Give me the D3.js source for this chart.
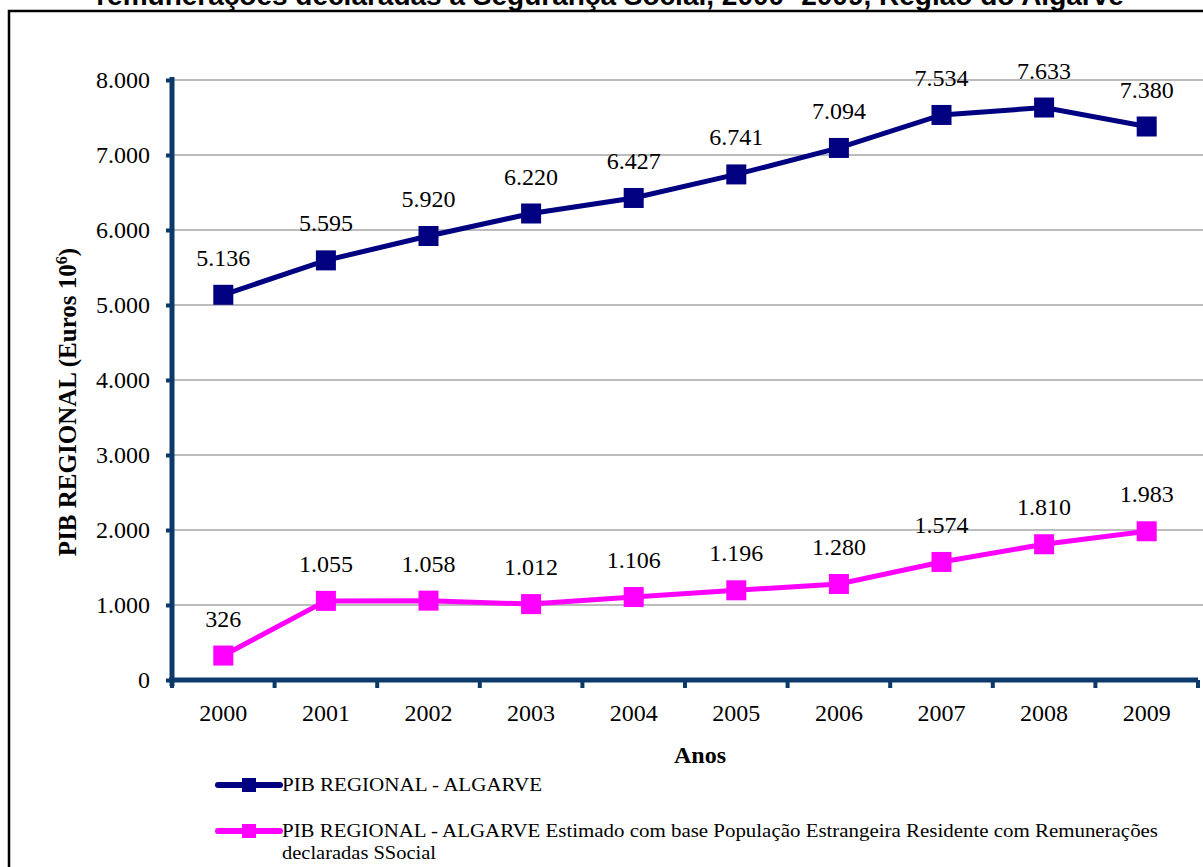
<!DOCTYPE html>
<meta charset="utf-8">
<style>
body { margin: 0; background: #fff; }
svg { display: block; }
.axis .domain { display: none; }
.serif { font-family: "Liberation Serif", "Times New Roman", Times, serif; }
</style>
<svg width="1203" height="867"></svg>
<script src="https://d3js.org/d3.v7.min.js"></script>
<script>

var anos = ["2000", "2001", "2002", "2003", "2004", "2005", "2006", "2007", "2008", "2009"];
var pibAlgarve = [5136, 5595, 5920, 6220, 6427, 6741, 7094, 7534, 7633, 7380];
var pibEstimado = [326, 1055, 1058, 1012, 1106, 1196, 1280, 1574, 1810, 1983];
var yTicks = [0, 1000, 2000, 3000, 4000, 5000, 6000, 7000, 8000];
var serieNomes = ["PIB REGIONAL - ALGARVE",
  "PIB REGIONAL - ALGARVE Estimado com base População Estrangeira Residente com Remunerações declaradas SSocial"];

var svg = d3.select("svg"),
    margin = {top: 80, right: 5, bottom: 187, left: 172},
    width = +svg.attr("width") - margin.left - margin.right,
    height = +svg.attr("height") - margin.top - margin.bottom;

var pt = d3.formatLocale({decimal: ",", thousands: ".", grouping: [3], currency: ["", "€"]});
var fmt = pt.format(",d");

var axisColor = "#0b3a6a";

// outer frame and (cropped) title
svg.append("rect")
    .attr("x", 9).attr("y", 11)
    .attr("width", 1230).attr("height", 900)
    .attr("fill", "none").attr("stroke", "#000").attr("stroke-width", 2.5);

svg.append("text")
    .attr("x", 610).attr("y", 5)
    .attr("text-anchor", "middle")
    .attr("font-family", "'Liberation Sans', Arial, sans-serif")
    .attr("font-weight", "bold")
    .attr("font-size", 28)
    .text("remunerações declaradas à Segurança Social, 2000- 2009, Região do Algarve");

var g = svg.append("g").attr("transform", "translate(" + margin.left + "," + margin.top + ")");

var x = d3.scaleBand().domain(anos).range([0, 1026]);
var y = d3.scaleLinear().domain([0, 8000]).range([height, 0]);

// gridlines
g.append("g")
  .selectAll("line")
  .data(yTicks.slice(1))
  .enter().append("line")
    .attr("x1", 0).attr("x2", 1040)
    .attr("y1", function(d) { return y(d); })
    .attr("y2", function(d) { return y(d); })
    .attr("stroke", "#a6a6a6").attr("stroke-width", 1.3);

// y axis
var yAxis = g.append("g")
    .attr("class", "axis axis--y")
    .call(d3.axisLeft(y).tickValues(yTicks).tickSize(6).tickPadding(16).tickFormat(fmt));
yAxis.attr("font-family", null).attr("font-size", null);
yAxis.selectAll("line").attr("stroke", axisColor).attr("stroke-width", 4);
yAxis.selectAll("text")
    .attr("class", "serif")
    .attr("fill", "#000")
    .attr("font-size", 24);

g.append("line")
    .attr("x1", 0).attr("x2", 0)
    .attr("y1", -3).attr("y2", height + 6)
    .attr("stroke", axisColor).attr("stroke-width", 5);

// x axis
var xAxis = g.append("g")
    .attr("class", "axis axis--x")
    .attr("transform", "translate(0," + height + ")")
    .call(d3.axisBottom(x).tickSize(0).tickPadding(24));
xAxis.attr("font-family", null).attr("font-size", null);
xAxis.selectAll("text")
    .attr("class", "serif")
    .attr("fill", "#000")
    .attr("font-size", 24);

xAxis.selectAll(".sep")
  .data(anos.map(function(d) { return x(d) + x.bandwidth(); }).concat([0]))
  .enter().append("line")
    .attr("class", "sep")
    .attr("x1", function(d) { return d; }).attr("x2", function(d) { return d; })
    .attr("y1", 0).attr("y2", 8)
    .attr("stroke", axisColor).attr("stroke-width", 4);

g.append("line")
    .attr("x1", -3).attr("x2", 1026)
    .attr("y1", height).attr("y2", height)
    .attr("stroke", axisColor).attr("stroke-width", 5);

// axis titles
svg.append("text")
    .attr("class", "serif")
    .attr("transform", "translate(76,402) rotate(-90)")
    .attr("text-anchor", "middle")
    .attr("font-weight", "bold")
    .attr("font-size", 25)
    .html("PIB REGIONAL (Euros 10<tspan dy='-9' font-size='16'>6</tspan><tspan dy='9'>)</tspan>");

svg.append("text")
    .attr("class", "serif")
    .attr("x", 700).attr("y", 763)
    .attr("text-anchor", "middle")
    .attr("font-weight", "bold")
    .attr("font-size", 24)
    .text("Anos");

// series
var series = [
  {nome: serieNomes[0], valores: pibAlgarve, cor: "#000080"},
  {nome: serieNomes[1], valores: pibEstimado, cor: "#ff00ff"}
];

var line = d3.line()
    .x(function(d, i) { return x(anos[i]) + x.bandwidth() / 2; })
    .y(function(d) { return y(d); });

series.forEach(function(s) {
  g.append("path")
      .datum(s.valores)
      .attr("fill", "none")
      .attr("stroke", s.cor)
      .attr("stroke-width", 5)
      .attr("d", line);

  g.selectAll(null)
    .data(s.valores)
    .enter().append("rect")
      .attr("x", function(d, i) { return x(anos[i]) + x.bandwidth() / 2 - 10; })
      .attr("y", function(d) { return y(d) - 10; })
      .attr("width", 20).attr("height", 20)
      .attr("fill", s.cor);

  g.selectAll(null)
    .data(s.valores)
    .enter().append("text")
      .attr("class", "serif")
      .attr("x", function(d, i) { return x(anos[i]) + x.bandwidth() / 2; })
      .attr("y", function(d) { return y(d) - 29; })
      .attr("text-anchor", "middle")
      .attr("fill", "#000")
      .attr("font-size", 24)
      .text(function(d) { return fmt(d); });
});

// legend
var legend = svg.append("g").attr("transform", "translate(218,785)");
series.forEach(function(s, i) {
  var gy = i * 46;
  legend.append("line")
      .attr("x1", 0).attr("x2", 62)
      .attr("y1", gy).attr("y2", gy)
      .attr("stroke", s.cor).attr("stroke-width", 6).attr("stroke-linecap", "round");
  legend.append("rect")
      .attr("x", 24).attr("y", gy - 7)
      .attr("width", 14).attr("height", 14)
      .attr("fill", s.cor);
});
var legendLinhas = [
  {t: serieNomes[0], y: 6, w: 260},
  {t: "PIB REGIONAL - ALGARVE Estimado com base População Estrangeira Residente com Remunerações", y: 52, w: 876},
  {t: "declaradas SSocial", y: 74, w: 154}
];
legendLinhas.forEach(function(l) {
  legend.append("text")
      .attr("class", "serif")
      .attr("x", 64).attr("y", l.y)
      .attr("font-size", 19)
      .attr("textLength", l.w)
      .attr("lengthAdjust", "spacingAndGlyphs")
      .text(l.t);
});

</script>
